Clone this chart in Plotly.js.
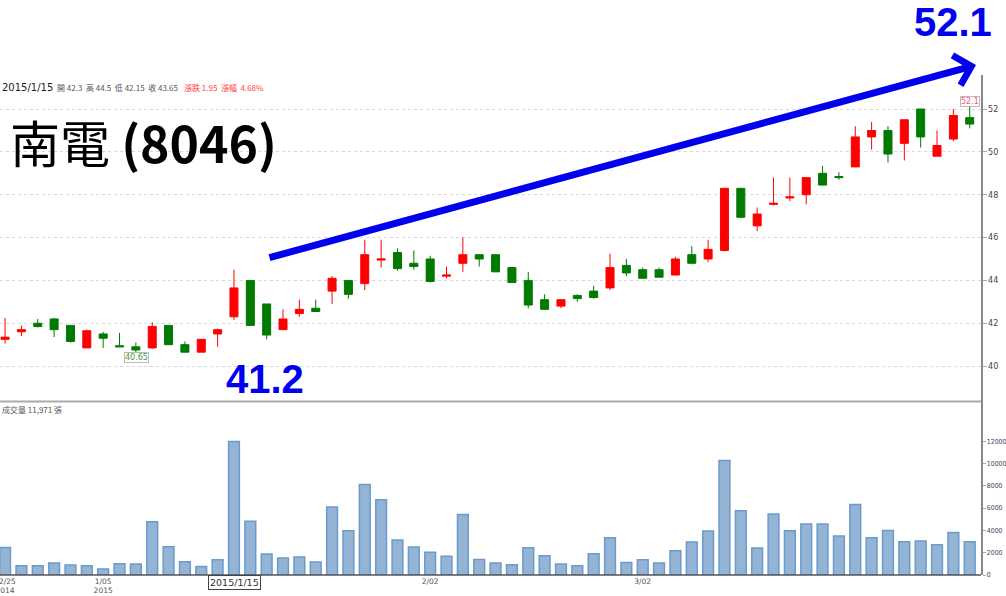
<!DOCTYPE html>
<html><head><meta charset="utf-8">
<script src="https://cdn.plot.ly/plotly-3.0.1.min.js"></script>
<style>html,body{margin:0;padding:0;background:#fff}#chart{width:1006px;height:596px}</style>
</head><body><div id="chart"></div>
<script>
const dates = ["2014/12/25","2014/12/26","2014/12/29","2014/12/30","2014/12/31","2015/1/2","2015/1/5","2015/1/6","2015/1/7","2015/1/8",
"2015/1/9","2015/1/12","2015/1/13","2015/1/14","2015/1/15","2015/1/16","2015/1/19","2015/1/20","2015/1/21","2015/1/22",
"2015/1/23","2015/1/26","2015/1/27","2015/1/28","2015/1/29","2015/1/30","2015/2/2","2015/2/3","2015/2/4","2015/2/5",
"2015/2/6","2015/2/9","2015/2/10","2015/2/11","2015/2/12","2015/2/13","2015/2/24","2015/2/25","2015/2/26","2015/3/2",
"2015/3/3","2015/3/4","2015/3/5","2015/3/6","2015/3/9","2015/3/10","2015/3/11","2015/3/12","2015/3/13","2015/3/16",
"2015/3/17","2015/3/18","2015/3/19","2015/3/20","2015/3/23","2015/3/24","2015/3/25","2015/3/26","2015/3/27","2015/3/30"];
const openP  = [41.25,41.6,42.0,42.2,41.9,40.85,41.5,40.95,40.9,40.85, 41.9,41.0,40.65,41.5,42.3,44.0,42.9,41.7,42.45,42.7, 43.5,44.0,43.85,44.95,45.3,44.8,45.0,44.2,44.8,45.2, 45.2,44.6,44.0,43.1,42.8,43.3,43.5,43.65,44.7,44.5, 44.5,44.25,45.2,45.0,45.4,48.3,46.55,47.55,47.85,48.0, 49.0,48.85,49.3,50.7,51.0,50.4,52.0,49.8,50.6,51.6];
const highP  = [42.25,41.9,42.2,42.25,41.9,41.7,41.6,41.55,41.1,42.05, 41.9,41.15,41.25,41.75,44.5,44.0,42.9,42.65,43.1,43.1, 44.2,44.0,45.9,45.9,45.5,45.4,45.15,44.65,46.0,45.2, 45.2,44.6,44.4,43.35,43.1,43.35,43.75,45.25,45.0,44.6, 44.6,45.1,45.6,45.9,48.3,48.3,47.4,48.8,48.8,48.8, 49.35,49.05,51.2,51.4,51.2,51.5,52.0,51.0,52.0,52.1];
const lowP   = [41.05,41.4,41.8,41.35,41.1,40.85,40.85,40.9,40.65,40.8, 41.0,40.65,40.65,40.9,42.15,41.9,41.25,41.7,42.3,42.55, 42.9,43.15,43.55,44.6,44.45,44.5,43.9,44.1,44.4,44.65, 44.4,43.9,42.7,42.65,42.7,43.0,43.15,43.55,44.2,44.1, 44.15,44.25,44.75,44.85,45.35,46.9,46.3,47.5,47.7,47.55, 48.45,48.7,49.3,50.1,49.5,49.6,50.2,49.8,50.5,51.1];
const closeP = [41.35,41.7,41.85,41.7,41.15,41.65,41.3,40.9,40.75,41.85, 41.0,40.65,41.25,41.7,43.65,41.9,41.45,42.2,42.65,42.55, 44.1,43.35,45.2,45.0,44.55,44.65,43.95,44.25,45.2,45.0, 44.4,43.9,42.85,42.65,43.1,43.15,43.2,44.6,44.35,44.1, 44.15,45.0,44.8,45.45,48.3,46.95,47.1,47.6,47.9,48.8, 48.45,48.8,50.7,51.0,49.9,51.5,50.7,50.3,51.7,51.3];
const volume = [2470,830,830,1070,890,830,540,1010,980,4770, 2530,1190,770,1370,11971,4830,1880,1520,1610,1160, 6090,3970,8110,6740,3130,2510,2030,1670,5430,1400, 1070,920,2440,1730,980,830,1910,3340,1130,1370, 1070,2180,2950,3940,10260,5760,2420,5460,3970,4570, 4570,3490,6320,3340,4000,2980,3040,2710,3810,2980];
const xTickVals = ["2014/12/25","2015/1/5","2015/2/2","2015/3/2"];
const xTickText = ["12/25<br>2014","1/05<br>2015","2/02","3/02"];
const priceTicks = [40,42,44,46,48,50,52];
const volTicks = [0,2000,4000,6000,8000,10000,12000];
const volTickText = ["0","2000","4000","6000","8000","10000","12000"];

const PW = 981, T = 75, PH = 500;
const px = v => v / PW;
const py = v => (575 - v) / PH;

const traces = [
  {type:'candlestick', x:dates, open:openP, high:highP, low:lowP, close:closeP,
   xaxis:'x', yaxis:'y',
   increasing:{line:{color:'#ff0000',width:1}, fillcolor:'#ff0000'},
   decreasing:{line:{color:'#007a00',width:1}, fillcolor:'#007a00'},
   whiskerwidth:0, hoverinfo:'skip', showlegend:false},
  {type:'bar', x:dates, y:volume, xaxis:'x', yaxis:'y2', width:0.66,
   marker:{color:'#94b4d6', line:{color:'#6b9acb', width:1.5}}, hoverinfo:'skip', showlegend:false}
];

const small = {family:'"Noto Sans CJK TC", "DejaVu Sans", sans-serif', size:8, color:'#555'};
const layout = {
  width:1006, height:596,
  margin:{l:0, r:1006-PW, t:T, b:596-575, pad:0},
  paper_bgcolor:'#fff', plot_bgcolor:'#fff',
  showlegend:false,
  xaxis:{type:'category', range:[-0.31, 59.69], anchor:'y2', showgrid:false, zeroline:false,
    showline:false, tickmode:'array', tickvals:xTickVals, ticktext:xTickText,
    ticks:'', ticklabelstandoff:0, rangeslider:{visible:false},
    tickfont:{family:'"DejaVu Sans", sans-serif', size:7.5, color:'#555'}, fixedrange:true},
  yaxis:{domain:[0.348,1], range:[38.37, 53.59], side:'right', anchor:'x', showline:true, linecolor:'#888', linewidth:1.5,
    tickmode:'array', tickvals:priceTicks, ticks:'outside', ticklen:4, tickcolor:'#aaa',
    showgrid:true, gridcolor:'#d8d8d8', griddash:'dot', zeroline:false,
    tickfont:{family:'"DejaVu Sans", sans-serif', size:8, color:'#44405a'}},
  yaxis2:{domain:[0,0.348], range:[0,15600], side:'right', anchor:'x', showline:true, linecolor:'#888', linewidth:1.5,
    tickmode:'array', tickvals:volTicks, ticktext:volTickText, ticks:'outside', ticklen:3, tickcolor:'#aaa',
    showgrid:false, zeroline:false,
    tickfont:{family:'"DejaVu Sans Condensed", "DejaVu Sans", sans-serif', size:6.8, color:'#44405a'}},
  shapes:[
    {type:'line', xref:'paper', yref:'paper', x0:0, x1:1, y0:py(401.5), y1:py(401.5), line:{color:'#aaa', width:2}},
    {type:'line', xref:'paper', yref:'paper', x0:0, x1:1, y0:0, y1:0, line:{color:'#555', width:1.5}}
  ],
  annotations:[
    {xref:'paper', yref:'paper', x:0, y:py(87), xanchor:'left', yanchor:'middle', showarrow:false,
     text:'2015/1/15', font:{family:'"DejaVu Sans", sans-serif', size:10, color:'#222'}},
    {xref:'paper', yref:'paper', x:px(55), y:py(87), xanchor:'left', yanchor:'middle', showarrow:false,
     text:'開 42.3  高 44.5  低 42.15  收 43.65', font:small},
    {xref:'paper', yref:'paper', x:px(182), y:py(87), xanchor:'left', yanchor:'middle', showarrow:false,
     text:'漲跌 1.95  漲幅  4.68%', font:Object.assign({}, small, {color:'#ff4040'})},
    {xref:'paper', yref:'paper', x:0, y:py(410), xanchor:'left', yanchor:'middle', showarrow:false,
     text:'成交量 11,971 張', font:small},
    {xref:'paper', yref:'paper', x:px(136), y:py(357), xanchor:'center', yanchor:'middle', showarrow:false, text:'40.65',
     font:{family:'"DejaVu Sans", sans-serif', size:8, color:'#4a9a3a'}, bgcolor:'#fff', bordercolor:'#bbb', borderwidth:1, borderpad:0},
    {xref:'paper', yref:'paper', x:px(970), y:py(101.5), xanchor:'center', yanchor:'middle', showarrow:false, text:'52.1',
     font:{family:'"DejaVu Sans", sans-serif', size:8, color:'#ff5070'}, bgcolor:'#fff', bordercolor:'#bbb', borderwidth:1, borderpad:0},
    {xref:'paper', yref:'paper', x:px(234.5), y:py(582), xanchor:'center', yanchor:'middle', showarrow:false, text:'2015/1/15',
     font:{family:'"DejaVu Sans", sans-serif', size:9.5, color:'#333'}, bgcolor:'#fff', bordercolor:'#444', borderwidth:1, borderpad:1},
    {xref:'paper', yref:'paper', x:px(8), y:py(141), xanchor:'left', yanchor:'middle', showarrow:false,
     text:'南電 <b>(8046)</b>', font:{family:'"Noto Sans CJK TC", sans-serif', size:50, color:'#000'}},
    {xref:'paper', yref:'paper', x:px(953), y:py(22), xanchor:'center', yanchor:'middle', showarrow:false,
     text:'<b>52.1</b>', font:{family:'"Liberation Sans", sans-serif', size:40, color:'#0000ee'}},
    {xref:'paper', yref:'paper', x:px(265), y:py(379), xanchor:'center', yanchor:'middle', showarrow:false,
     text:'<b>41.2</b>', font:{family:'"Liberation Sans", sans-serif', size:40, color:'#0000ee'}},
    {xref:'paper', yref:'paper', x:px(976), y:py(65), ax:268-976, ay:258-65, axref:'pixel', ayref:'pixel',
     showarrow:true, arrowhead:4, arrowsize:0.85, arrowwidth:7, arrowcolor:'#0000ee', text:''}
  ]
};
Plotly.newPlot('chart', traces, layout, {staticPlot:true, displayModeBar:false});
</script>
</body></html>
